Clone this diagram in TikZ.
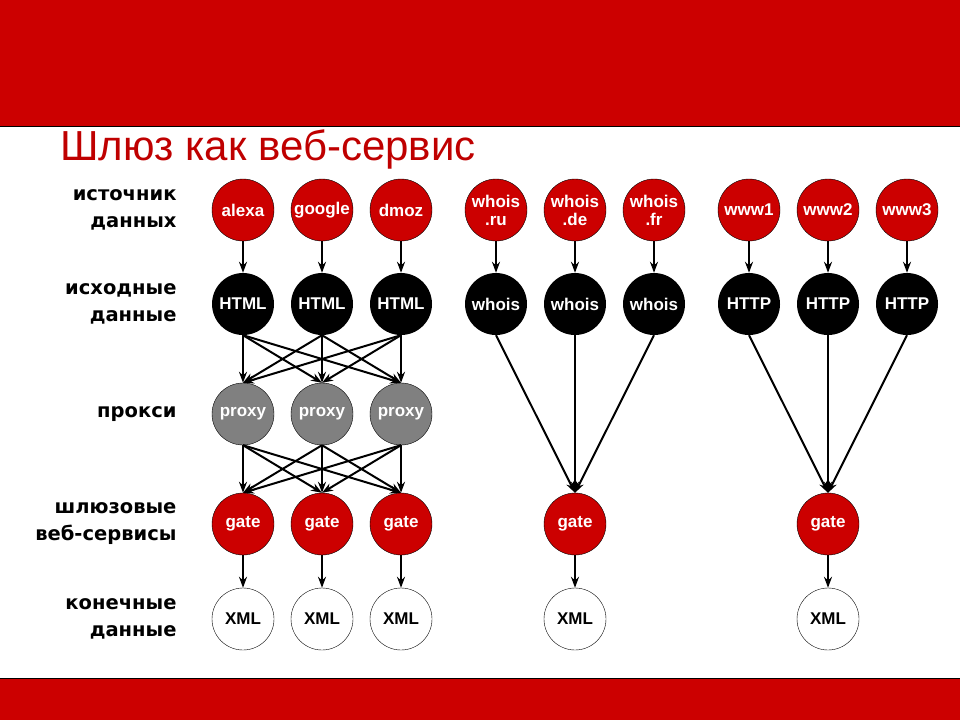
\documentclass[tikz,border=0pt]{standalone}
\usepackage{fontspec}
\setmainfont{Liberation Sans}
\newfontfamily\lblfont{DejaVu Sans}
\usetikzlibrary{arrows.meta}
\begin{document}
\begin{tikzpicture}[x=1pt,y=-1pt,
  nd/.style={circle,minimum size=62pt,inner sep=0pt,font=\bfseries\fontsize{17}{18}\selectfont,align=center},
  src/.style={nd,fill=red!80!black,draw=black,text=white},
  raw/.style={nd,fill=black,text=white},
  prx/.style={nd,fill=gray,draw=black,text=white},
  gt/.style={nd,fill=red!80!black,draw=black,text=white},
  xml/.style={nd,fill=white,draw=black,text=black},
  lbl/.style={anchor=east,align=right,font=\lblfont\bfseries\fontsize{19.5}{27}\selectfont},
  ar/.style={-{Stealth[length=11pt,width=8pt]},line width=2pt}]
\useasboundingbox (0,0) rectangle (960,720);
\fill[red!80!black] (0,0) rectangle (960,126);
\draw[line width=1pt] (0,126) -- (960,126);
\fill[red!80!black] (0,678) rectangle (960,720);
\draw[line width=1pt] (0,678) -- (960,678);
\node[anchor=base west,text=red!75!black,font=\fontsize{42}{46}\selectfont,inner sep=0pt] (title) at (60,160) {Шлюз как веб-сервис};
\node[lbl] (l1) at (180,210) {источник\\данных};
\node[lbl] (l2) at (180,304) {исходные\\данные};
\node[lbl] (l3) at (180,414) {прокси};
\node[lbl] (l4) at (180,524) {шлюзовые\\веб-сервисы};
\node[lbl] (l5) at (180,619) {конечные\\данные};
\node[src] (s1) at (243,210) {alexa};
\node[src] (s2) at (322,210) {google};
\node[src] (s3) at (401,210) {dmoz};
\node[src] (s4) at (496,210) {whois\\.ru};
\node[src] (s5) at (575,210) {whois\\.de};
\node[src] (s6) at (654,210) {whois\\.fr};
\node[src] (s7) at (749,210) {www1};
\node[src] (s8) at (828,210) {www2};
\node[src] (s9) at (907,210) {www3};
\node[raw] (r1) at (243,304) {HTML};
\node[raw] (r2) at (322,304) {HTML};
\node[raw] (r3) at (401,304) {HTML};
\node[raw] (r4) at (496,304) {whois};
\node[raw] (r5) at (575,304) {whois};
\node[raw] (r6) at (654,304) {whois};
\node[raw] (r7) at (749,304) {HTTP};
\node[raw] (r8) at (828,304) {HTTP};
\node[raw] (r9) at (907,304) {HTTP};
\node[prx] (p1) at (243,414) {proxy};
\node[prx] (p2) at (322,414) {proxy};
\node[prx] (p3) at (401,414) {proxy};
\node[gt] (g1) at (243,524) {gate};
\node[gt] (g2) at (322,524) {gate};
\node[gt] (g3) at (401,524) {gate};
\node[gt] (g4) at (575,524) {gate};
\node[gt] (g5) at (828,524) {gate};
\node[xml] (x1) at (243,619) {XML};
\node[xml] (x2) at (322,619) {XML};
\node[xml] (x3) at (401,619) {XML};
\node[xml] (x4) at (575,619) {XML};
\node[xml] (x5) at (828,619) {XML};
\foreach \i in {1,...,9}{\draw[ar] (s\i) -- (r\i);}
\foreach \i in {1,2,3}{\foreach \j in {1,2,3}{
  \draw[ar] (r\i.south) -- (p\j.north);
  \draw[ar] (p\i.south) -- (g\j.north);}}
\foreach \i in {4,5,6}{\draw[ar] (r\i.south) -- (g4.north);}
\foreach \i in {7,8,9}{\draw[ar] (r\i.south) -- (g5.north);}
\foreach \i in {1,...,5}{\draw[ar] (g\i) -- (x\i);}
\end{tikzpicture}
\end{document}
